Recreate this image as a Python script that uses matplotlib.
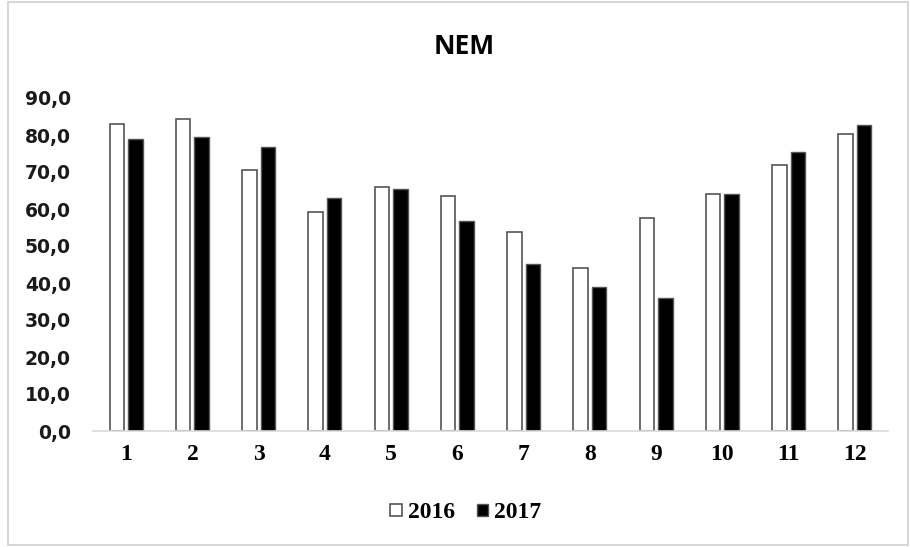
import matplotlib.pyplot as plt
import numpy as np
from matplotlib.patches import Rectangle

months = ["1", "2", "3", "4", "5", "6", "7", "8", "9", "10", "11", "12"]
values_2016 = [83.0, 84.2, 70.5, 59.1, 65.9, 63.6, 53.9, 44.1, 57.5, 64.1, 71.8, 80.4]
values_2017 = [79.0, 79.4, 76.8, 63.1, 65.4, 56.8, 45.1, 39.0, 36.0, 64.1, 75.5, 82.7]
y_ticks = [0, 10, 20, 30, 40, 50, 60, 70, 80, 90]

fig = plt.figure(figsize=(9.1, 5.47), dpi=100)
fig.patch.set_facecolor("white")
fig.patches.append(Rectangle((8 / 910, 2 / 547), 900 / 910, 543 / 547,
                             transform=fig.transFigure, fill=False,
                             edgecolor="#d0d0d0", linewidth=1.2))

ax = fig.add_axes([93 / 910, 1 - 431 / 547, 795 / 910, 333 / 547])
x = np.arange(len(months))
w = 0.22
off = 0.14
ax.bar(x - off, values_2016, width=w, color="white", edgecolor="#555555",
       linewidth=1.2, label="2016")
ax.bar(x + off, values_2017, width=w, color="black", edgecolor="#555555",
       linewidth=1.0, label="2017")

ax.set_xlim(-0.5, len(months) - 0.5)
ax.set_ylim(0, 90)
ax.set_yticks(y_ticks)
ax.set_yticklabels([f"{v:.1f}".replace(".", ",") for v in y_ticks],
                   fontfamily="DejaVu Sans", fontweight="bold", fontsize=13.5,
                   color="#1a1a1a")
ax.set_xticks(x)
ax.set_xticklabels(months, fontfamily="Liberation Serif", fontweight="bold",
                   fontsize=17)
ax.tick_params(axis="y", length=0, pad=16)
ax.tick_params(axis="x", length=0, pad=9)
for s in ["top", "right", "left"]:
    ax.spines[s].set_visible(False)
ax.spines["bottom"].set_color("#d9d9d9")
ax.spines["bottom"].set_linewidth(1.2)

fig.text(464 / 910, 1 - 46 / 547, "NEM", ha="center", va="center",
         fontfamily="Open Sans", fontweight="bold", fontsize=19)

leg = fig.legend(loc="center", bbox_to_anchor=(466 / 910, 1 - 513 / 547), ncol=2,
                 frameon=False, prop={"family": "Liberation Serif",
                                      "weight": "bold", "size": 17},
                 handlelength=0.5, handleheight=0.45, handletextpad=0.25,
                 columnspacing=0.9)

fig.savefig("out.png", dpi=100)
